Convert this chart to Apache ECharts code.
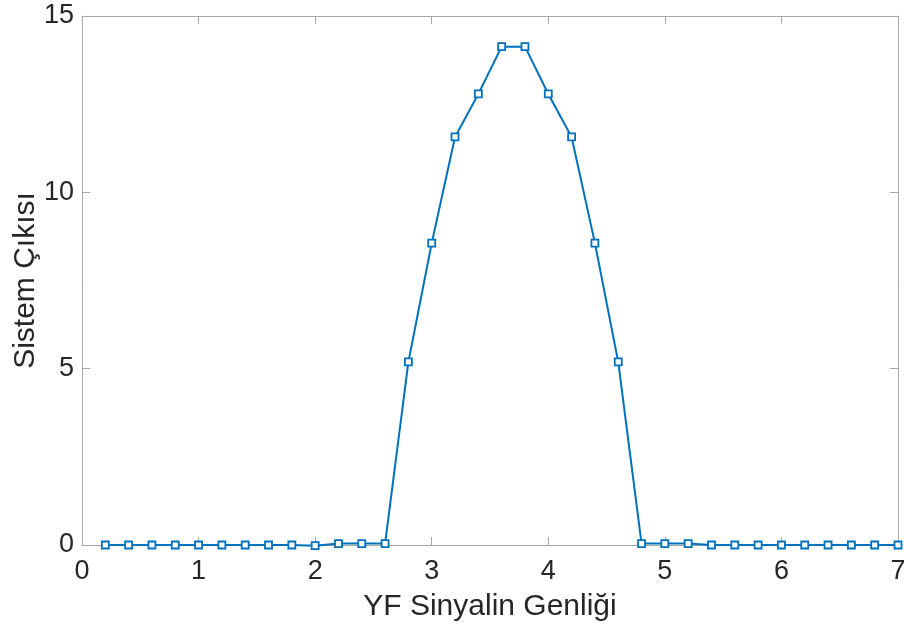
<!DOCTYPE html>
<html>
<head>
<meta charset="utf-8">
<script src="https://cdn.jsdelivr.net/npm/echarts@6/dist/echarts.min.js"></script>
<style>
html,body{margin:0;padding:0;background:#fff;}
#chart{width:904px;height:634px;}
</style>
</head>
<body>
<div id="chart"></div>
<script>
// RF signal amplitude (x) vs. system output (y)
const amplitude = [0.2,0.4,0.6,0.8,1.0,1.2,1.4,1.6,1.8,2.0,2.2,2.4,2.6,2.8,3.0,3.2,3.4,3.6,3.8,4.0,4.2,4.4,4.6,4.8,5.0,5.2,5.4,5.6,5.8,6.0,6.2,6.4,6.6,6.8,7.0];
const output = [0,0,0,0,0,0,0,0,0,-0.02,0.04,0.04,0.04,5.19,8.56,11.57,12.79,14.13,14.13,12.79,11.57,8.56,5.19,0.04,0.04,0.04,0,0,0,0,0,0,0,0,0];
const xTicks = [0,1,2,3,4,5,6,7];
const yTicks = [0,5,10,15];

const font = 'Liberation Sans, Arial, sans-serif';
const frame = '#a8a8a8';
const textColor = '#262626';

const chart = echarts.init(document.getElementById('chart'));
const tickCommon = {show:true, inside:true, length:8, lineStyle:{color:frame, width:1}};
const lineCommon = {show:true, onZero:false, lineStyle:{color:frame, width:1}};
chart.setOption({
  animation:false,
  grid:{left:82, right:6, top:16, bottom:89, containLabel:false, outerBoundsMode:'none'},
  xAxis:[{
    type:'value', min:xTicks[0], max:xTicks[xTicks.length-1], interval:1,
    position:'bottom',
    axisLine:lineCommon,
    axisTick:tickCommon,
    splitLine:{show:false},
    axisLabel:{color:textColor, fontSize:27, fontFamily:font, margin:13},
    name:'YF Sinyalin Genliği', nameLocation:'middle', nameGap:47, nameMoveOverlap:false,
    nameTextStyle:{color:textColor, fontSize:30, fontFamily:font}
  },{
    type:'value', min:xTicks[0], max:xTicks[xTicks.length-1], interval:1,
    position:'top',
    axisLine:lineCommon,
    axisTick:tickCommon, axisLabel:{show:false}, splitLine:{show:false}
  }],
  yAxis:[{
    type:'value', min:yTicks[0], max:yTicks[yTicks.length-1], interval:5,
    position:'left',
    axisLine:lineCommon,
    axisTick:tickCommon,
    splitLine:{show:false},
    axisLabel:{color:textColor, fontSize:27, fontFamily:font, margin:8},
    name:'Sistem Çıkısı', nameLocation:'middle', nameGap:41, nameMoveOverlap:false,
    nameTextStyle:{color:textColor, fontSize:30, fontFamily:font}
  },{
    type:'value', min:yTicks[0], max:yTicks[yTicks.length-1], interval:5,
    position:'right',
    axisLine:lineCommon,
    axisTick:tickCommon, axisLabel:{show:false}, splitLine:{show:false}
  }],
  series:[{
    type:'line',
    data:amplitude.map((x,i)=>[x,output[i]]),
    symbol:'rect', symbolSize:7,
    itemStyle:{color:'#ffffff', borderColor:'#0072BD', borderWidth:1.8},
    lineStyle:{color:'#0072BD', width:2},
    clip:false
  }]
});
</script>
</body>
</html>
